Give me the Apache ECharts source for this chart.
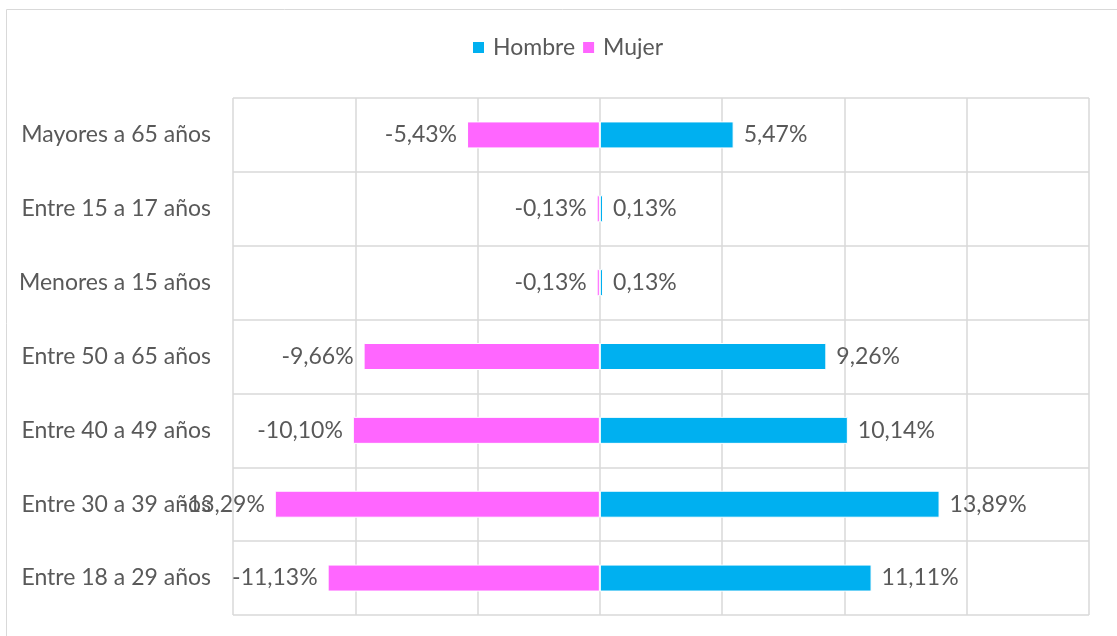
<!DOCTYPE html>
<html>
<head>
<meta charset="utf-8">
<script src="https://cdn.jsdelivr.net/npm/echarts@6/dist/echarts.min.js"></script>
<style>
  html, body { margin: 0; padding: 0; background: #fff; }
  #chart { width: 1117px; height: 636px; }
</style>
</head>
<body>
<div id="chart"></div>
<script>
// categorías (de abajo hacia arriba)
const categories = [
  'Entre 18 a 29 años',
  'Entre 30 a 39 años',
  'Entre 40 a 49 años',
  'Entre 50 a 65 años',
  'Menores a 15 años',
  'Entre 15 a 17 años',
  'Mayores a 65 años'
]
const hombre = [11.11, 13.89, 10.14, 9.26, 0.13, 0.13, 5.47]
const mujer = [-11.13, -13.29, -10.10, -9.66, -0.13, -0.13, -5.43]

const fontFamily = 'Lato, "Open Sans", sans-serif'
const textColor = '#595959'
const fontSize = 23

const fmt = p => p.value.toFixed(2).replace('.', ',') + '%'

const chart = echarts.init(document.getElementById('chart'))

chart.setOption({
  animation: false,
  textStyle: { fontFamily: fontFamily, color: textColor },
  graphic: [
    {
      type: 'rect',
      shape: { x: 6.5, y: 9.5, width: 1130, height: 640 },
      style: { fill: 'none', stroke: '#d9d9d9', lineWidth: 1 },
      silent: true
    }
  ],
  legend: {
    top: 36,
    left: 471,
    padding: 0,
    itemWidth: 13,
    itemHeight: 13,
    itemGap: 6,
    icon: 'rect',
    textStyle: { fontSize: fontSize, color: textColor, fontFamily: fontFamily, padding: [0, 0, 0, 3] },
    data: ['Hombre', 'Mujer']
  },
  grid: {
    left: 233,
    right: 28,
    top: 98,
    bottom: 21
  },
  xAxis: {
    type: 'value',
    min: -15,
    max: 20,
    interval: 5,
    axisLabel: { show: false },
    axisLine: { show: false },
    axisTick: { show: false },
    splitLine: { show: true, lineStyle: { color: '#d9d9d9', width: 1.5 } }
  },
  yAxis: {
    type: 'category',
    data: categories,
    axisLine: { show: false },
    axisTick: { show: false },
    axisLabel: { fontSize: fontSize, color: textColor, margin: 22, fontFamily: fontFamily },
    splitLine: { show: true, lineStyle: { color: '#d9d9d9', width: 1.5 } }
  },
  series: [
    {
      name: 'Hombre',
      type: 'bar',
      data: hombre,
      barWidth: 27,
      barGap: '-100%',
      itemStyle: { color: '#00b0f0', borderColor: '#fff', borderWidth: 1 },
      label: {
        show: true,
        position: 'right',
        distance: 10,
        fontSize: fontSize,
        color: textColor,
        fontFamily: fontFamily,
        formatter: fmt
      }
    },
    {
      name: 'Mujer',
      type: 'bar',
      data: mujer,
      barWidth: 27,
      itemStyle: { color: '#ff66ff', borderColor: '#fff', borderWidth: 1 },
      label: {
        show: true,
        position: 'left',
        distance: 10,
        fontSize: fontSize,
        color: textColor,
        fontFamily: fontFamily,
        formatter: fmt
      }
    }
  ]
})

window.addEventListener('resize', () => chart.resize())
</script>
</body>
</html>
